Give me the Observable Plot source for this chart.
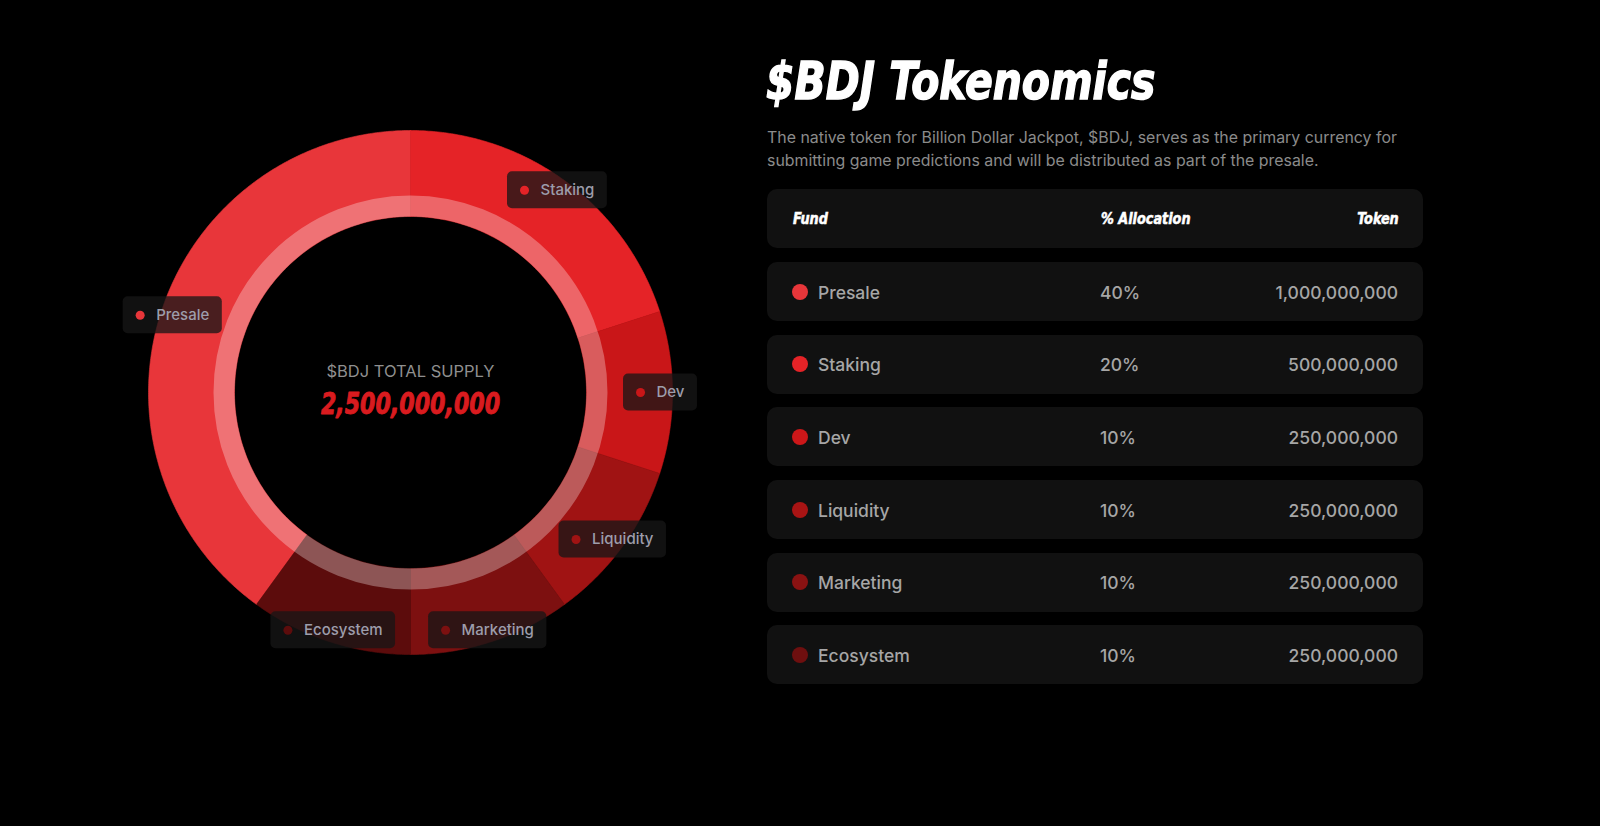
<!DOCTYPE html>
<html>
<head>
<meta charset="utf-8">
<script src="https://cdn.jsdelivr.net/npm/d3@7"></script>
<script src="https://cdn.jsdelivr.net/npm/@observablehq/plot@0.6"></script>
<style>
html,body{margin:0;padding:0;background:#000;width:1600px;height:826px;overflow:hidden;font-family:Inter,"Noto Sans",sans-serif;}
#donut{position:absolute;left:60px;top:42px;}
.cond{font-family:"DejaVu Sans Condensed","DejaVu Sans",sans-serif;font-stretch:condensed;font-weight:700;font-style:italic;}
#title{position:absolute;left:766px;top:55px;font-size:52px;line-height:52px;color:#fff;-webkit-text-stroke:1.4px #fff;margin:0;white-space:nowrap;transform:scaleX(0.875);transform-origin:0 0;}
#sub{position:absolute;left:767px;top:126px;font-size:15.9px;line-height:23px;color:#8b8b8b;margin:0;white-space:nowrap;}
#table{position:absolute;left:767px;top:189px;width:656px;}
.row{position:relative;height:59px;background:#111111;border-radius:10px;margin-bottom:13.6px;}
.hdr{margin-bottom:14.3px;}
.hdr span{position:absolute;top:50%;transform:translateY(-50%) scaleX(0.95);color:#fff;font-size:15px;-webkit-text-stroke:0.5px #fff;}
.row .dot{position:absolute;left:25px;top:50%;width:16px;height:16px;margin-top:-8px;border-radius:50%;}
.row .cell{position:absolute;top:50%;transform:translateY(-50%);color:#a6a6a6;font-size:17.5px;font-weight:500;}
</style>
</head>
<body>
<div id="donut"></div>
<h1 id="title" class="cond"></h1>
<p id="sub"></p>
<div id="table"></div>
<script>
// ---- data ----
const funds = ["Presale", "Staking", "Dev", "Liquidity", "Marketing", "Ecosystem"];
const shares = [40, 20, 10, 10, 10, 10];
const tokens = [1000000000, 500000000, 250000000, 250000000, 250000000, 250000000];
const colors = ["#e8363a", "#e52327", "#c91618", "#a01313", "#7d1010", "#5c0c0c"];
const dotColors = ["#e8363a", "#e52327", "#cc1719", "#a81414", "#8a1212", "#6e0f0f"];
const headers = ["Fund", "% Allocation", "Token"];
const titleText = "$BDJ Tokenomics";
const subLines = ["The native token for Billion Dollar Jackpot, $BDJ, serves as the primary currency for",
                  "submitting game predictions and will be distributed as part of the presale."];
const centerLabel = "$BDJ TOTAL SUPPLY";

const fmt = d3.format(",");
const total = d3.sum(tokens);
const shareTotal = d3.sum(shares);

// ---- donut geometry from shares ----
const R_OUT = 262, R_IN = 176, R_LABEL = 250;
const pts = [];
const labels = [];
const measure = document.createElement("canvas").getContext("2d");
measure.font = "500 15px Inter";
let acc = -2 * Math.PI * shares[0] / shareTotal;
funds.forEach((f, i) => {
  const a0 = acc, a1 = acc + 2 * Math.PI * shares[i] / shareTotal;
  const n = Math.max(2, Math.ceil((a1 - a0) / (Math.PI / 360)));
  const ring = [];
  for (let k = 0; k <= n; k++) { const t = a0 + (a1 - a0) * k / n; ring.push({fund: f, x: R_OUT * Math.sin(t), y: R_OUT * Math.cos(t)}); }
  for (let k = n; k >= 0; k--) { const t = a0 + (a1 - a0) * k / n; ring.push({fund: f, x: R_IN * Math.sin(t), y: R_IN * Math.cos(t)}); }
  ring.push(ring[0]);
  pts.push(...ring);
  const mid = (a0 + a1) / 2;
  const cx = R_LABEL * Math.sin(mid), cy = R_LABEL * Math.cos(mid);
  const w = measure.measureText(f).width + 46;
  labels.push({fund: f, cx, cy, left: cx - w / 2, right: cx + w / 2});
  acc = a1;
});

const chart = Plot.plot({
  width: 700, height: 700, margin: 0,
  style: {background: "transparent", overflow: "visible"},
  x: {domain: [-350, 350], axis: null},
  y: {domain: [-350, 350], axis: null},
  color: {domain: funds, range: colors},
  marks: [
    Plot.line(pts, {x: "x", y: "y", z: "fund", fill: "fund", stroke: "fund", strokeWidth: 0.6}),
    Plot.dot([0], {x: () => 0, y: () => 0, r: (R_IN + 197) / 2, fill: "none", stroke: "#ffffff", strokeOpacity: 0.3, strokeWidth: 21}),
    Plot.rect(labels, {x1: "left", x2: "right", y1: d => d.cy - 18.5, y2: d => d.cy + 18.5, fill: "#161616", fillOpacity: 0.76, rx: 5}),
    Plot.dot(labels, {x: d => d.left + 17, y: "cy", r: 4.5, fill: "fund"}),
    Plot.text(labels, {x: d => d.left + 33, y: "cy", text: "fund", textAnchor: "start", lineAnchor: "middle", fill: "#9d9dab", fontSize: 15, fontWeight: 500, fontFamily: "Inter, sans-serif"}),
    Plot.text([centerLabel], {x: () => 0, y: () => 21, text: d => d, fill: "#8f8f8f", fontSize: 16.5, fontFamily: "Inter, sans-serif", lineAnchor: "middle"}),
    Plot.text([total], {x: () => 0, y: () => -12, text: d => fmt(d), fill: "#d91b1f", stroke: "#d91b1f", strokeWidth: 0.9, fontSize: 30, fontWeight: 700, fontStyle: "italic", fontFamily: "'DejaVu Sans Condensed', 'DejaVu Sans', sans-serif", lineAnchor: "middle"})
  ]
});
document.getElementById("donut").appendChild(chart);
// condense the big total like the reference's narrow display face
chart.querySelectorAll("text").forEach(t => {
  if (t.textContent === fmt(total)) {
    t.style.fontStretch = "condensed";
    const tr = t.getAttribute("transform") || "";
    t.setAttribute("transform", tr + " scale(0.82,1)");
  }
});

// ---- text + table ----
document.getElementById("title").textContent = titleText;
document.getElementById("sub").innerHTML = subLines.join("<br>");

const table = document.getElementById("table");
const hdr = document.createElement("div");
hdr.className = "row hdr";
hdr.innerHTML = `<span class="cond" style="left:26px;transform-origin:0 50%">${headers[0]}</span>` +
  `<span class="cond" style="left:334px;transform-origin:0 50%">${headers[1]}</span>` +
  `<span class="cond" style="right:24px;transform-origin:100% 50%">${headers[2]}</span>`;
table.appendChild(hdr);
funds.forEach((f, i) => {
  const r = document.createElement("div");
  r.className = "row";
  r.innerHTML = `<div class="dot" style="background:${dotColors[i]}"></div>` +
    `<span class="cell" style="left:51px">${f}</span>` +
    `<span class="cell" style="left:333px">${shares[i]}%</span>` +
    `<span class="cell" style="right:25px">${fmt(tokens[i])}</span>`;
  table.appendChild(r);
});
</script>
</body>
</html>
